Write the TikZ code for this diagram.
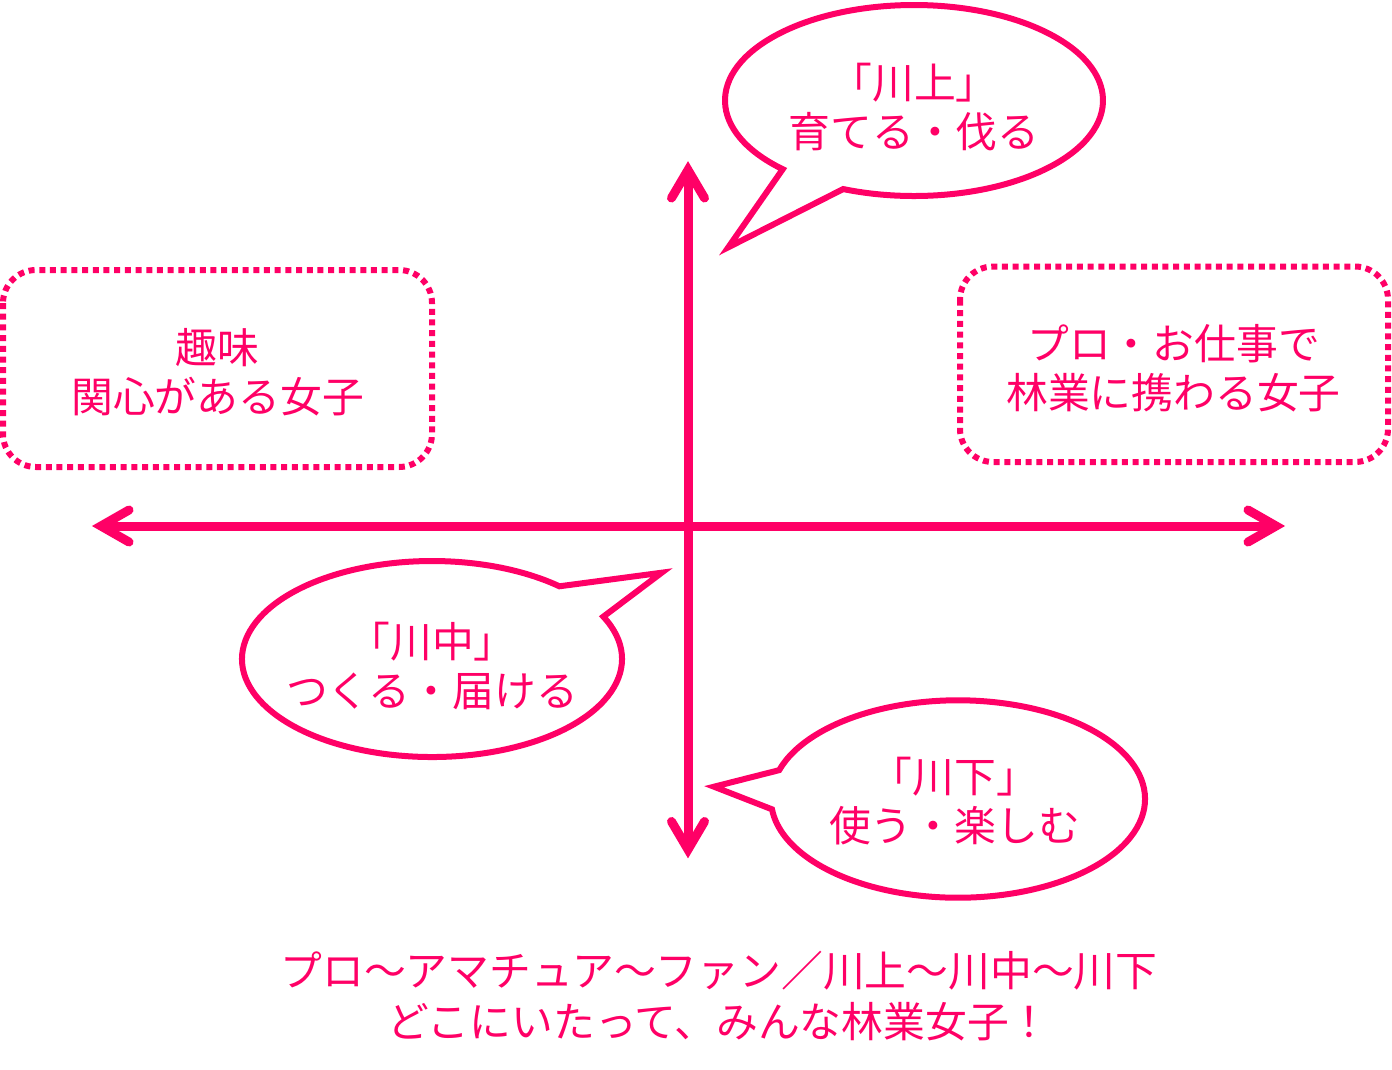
\documentclass[tikz,border=0pt]{standalone}
\usepackage{fontspec}
\newfontfamily\cjk{Noto Sans CJK JP}
\usetikzlibrary{calc}
\definecolor{rinpink}{HTML}{FF0066}
\tikzset{
  axisline/.style={draw=rinpink, line width=9pt},
  headline/.style={draw=rinpink, line width=9pt, line cap=round, line join=miter},
  bubble/.style={draw=rinpink, line width=6pt, line join=miter},
  dotbox/.style={draw=rinpink, line width=6pt, dash pattern=on 6pt off 4.7pt, rounded corners=33pt},
  txt/.style={text=rinpink, font=\cjk\fontsize{41.8}{49}\selectfont, align=center, inner sep=0pt},
}
\begin{document}
\begin{tikzpicture}[x=1pt,y=-1pt]
\useasboundingbox (0,0) rectangle (1392,1069);
% axes
\coordinate (top) at (688,170);
\coordinate (bottom) at (688,849.5);
\coordinate (left) at (101,526);
\coordinate (right) at (1276,526);
\draw[axisline] (top) -- (bottom);
\draw[axisline] (left) -- (right);
\draw[headline] ($(top)+(-16.5,28)$) -- (top) -- ($(top)+(16.5,28)$);
\draw[headline] ($(bottom)+(-16.5,-28)$) -- (bottom) -- ($(bottom)+(16.5,-28)$);
\draw[headline] ($(left)+(28,-16)$) -- (left) -- ($(left)+(28,16)$);
\draw[headline] ($(right)+(-28,-16)$) -- (right) -- ($(right)+(-28,16)$);
% dotted boxes
\draw[dotbox] (3,270) rectangle (432,467);
\draw[dotbox] (960,266.5) rectangle (1388,462);
\node[txt] (hobby) at (217.5,372) {趣味\\関心がある女子};
\node[txt] (pro) at (1173.5,368.5) {プロ・お仕事で\\林業に携わる女子};
% bubble 1
\coordinate (b1) at (914,100.5);
\coordinate (t1) at (728.3,247.3);
\draw[bubble] ($(b1)+(134:189 and 95.5)$) arc[start angle=134, end angle=472, x radius=189, y radius=95.5] -- (t1) -- cycle;
\node[txt] (kami) at (914,107) {「川上」\\育てる・伐る};
% bubble 2
\coordinate (b2) at (432,659);
\coordinate (t2) at (661.7,572.7);
\draw[bubble] ($(b2)+(-25.6:190 and 98)$) arc[start angle=-25.6, end angle=312.1, x radius=190, y radius=98] -- (t2) -- cycle;
\node[txt] (naka) at (432,665.5) {「川中」\\つくる・届ける};
% bubble 3
\coordinate (b3) at (958,799);
\coordinate (t3) at (714,786.7);
\draw[bubble] ($(b3)+(197:187 and 98.7)$) arc[start angle=197, end angle=534, x radius=187, y radius=98.7] -- (t3) -- cycle;
\node[txt] (shimo) at (954.5,801.5) {「川下」\\使う・楽しむ};
% bottom text
\node[txt, font=\cjk\fontsize{41.8}{51}\selectfont] (motto) at (719,996.5) {プロ～アマチュア～ファン／川上～川中～川下\\どこにいたって、みんな林業女子！};
\end{tikzpicture}
\end{document}
